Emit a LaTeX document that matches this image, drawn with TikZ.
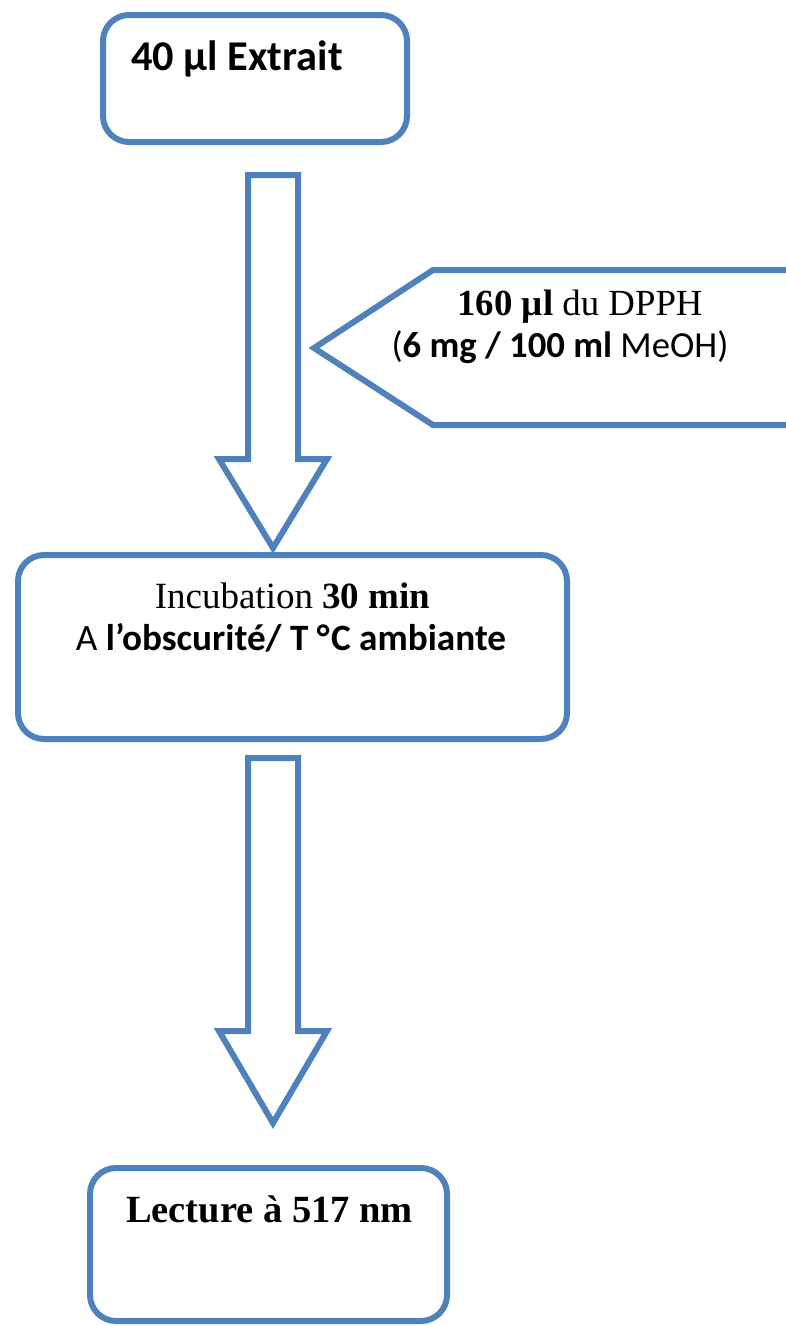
\documentclass[tikz,border=0pt]{standalone}
\usepackage{fontspec}
\setmainfont{Liberation Serif}
\newfontfamily\calibri{Carlito}
\usepackage{tikz}
\usetikzlibrary{calc,positioning}

\definecolor{officeblue}{RGB}{79,129,189}

\begin{document}
\begin{tikzpicture}[
    x=1pt, y=-1pt,
    box/.style={rectangle, rounded corners=26pt, draw=officeblue, line width=6pt, fill=white, inner sep=0pt},
    blk/.style={draw=officeblue, line width=6pt, fill=white},
    lbl/.style={inner sep=0pt, anchor=base}
]
    \useasboundingbox (0,0) rectangle (785,1326);

    % boxes
    \node[box, minimum width=304pt, minimum height=127pt] (extrait) at (255,78.5) {};
    \node[box, minimum width=549pt, minimum height=184pt] (incub) at (292.5,647) {};
    \node[box, minimum width=357pt, minimum height=153pt] (lecture) at (268.5,1244.5) {};

    % reagent pointer, open on the right
    \coordinate (dpphtip) at (314,348);
    \draw[blk] (800,270) -- (433,270) -- (dpphtip) -- (433,425) -- (800,425);

    % block arrows
    \coordinate (a1top) at (273,175);
    \coordinate (a1tip) at (273,548);
    \coordinate (a2top) at (273,758);
    \coordinate (a2tip) at (273,1123);
    \draw[blk] let \p1=(a1top), \p2=(a1tip) in
        (\x1-25pt,\y1) -- (\x1+25pt,\y1) -- (\x1+25pt,\y2+89pt) -- (\x1+54pt,\y2+89pt)
        -- (\x2,\y2) -- (\x1-54pt,\y2+89pt) -- (\x1-25pt,\y2+89pt) -- cycle;
    \draw[blk] let \p1=(a2top), \p2=(a2tip) in
        (\x1-25pt,\y1) -- (\x1+25pt,\y1) -- (\x1+25pt,\y2+92pt) -- (\x1+54pt,\y2+92pt)
        -- (\x2,\y2) -- (\x1-54pt,\y2+92pt) -- (\x1-25pt,\y2+92pt) -- cycle;

    % texts
    \node[lbl, anchor=base west, font=\calibri\bfseries\fontsize{42.4}{48}\selectfont] (extraittxt) at (131,70) {40 µl Extrait};
    \node[lbl, font=\fontsize{36.8}{44}\selectfont] (dpph) at (580,315) {\textbf{160 µl} du DPPH};
    \node[lbl, font=\calibri\fontsize{36.7}{44}\selectfont] (dpphconc) at (560,357) {(\textbf{6 mg / 100 ml} MeOH)};
    \node[lbl, font=\fontsize{37}{44}\selectfont] (incubtxt) at (292.5,608) {Incubation \textbf{30 min}};
    \node[lbl, font=\calibri\fontsize{37.2}{44}\selectfont] (obsc) at (291,650) {A \textbf{l’obscurité/ T °\kern1.5pt C ambiante}};
    \node[lbl, font=\bfseries\fontsize{38.5}{46}\selectfont] (lecturetxt) at (269.5,1222) {Lecture à 517 nm};
\end{tikzpicture}
\end{document}
